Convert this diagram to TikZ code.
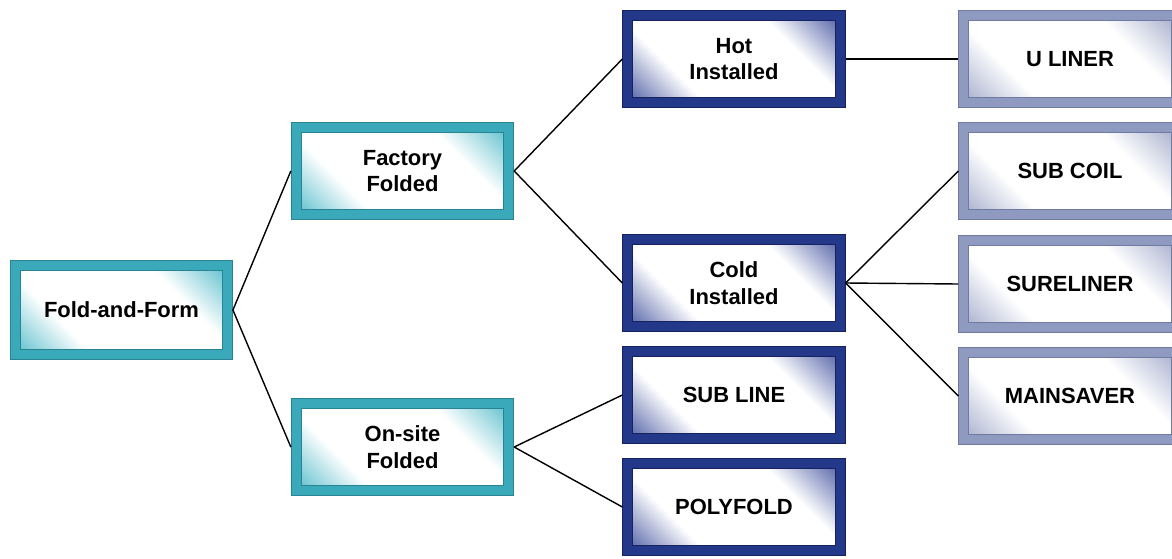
\documentclass[tikz,border=0pt]{standalone}
\usepackage{fontspec}
\setmainfont{Liberation Sans}
\usepackage{tikz}

\definecolor{tealframe}{RGB}{58,170,186}
\definecolor{tealshade}{RGB}{64,180,196}
\definecolor{tealdark}{RGB}{40,132,148}
\definecolor{navyframe}{RGB}{36,56,138}
\definecolor{navyshade}{RGB}{50,68,150}
\definecolor{navydark}{RGB}{22,34,96}
\definecolor{slateframe}{RGB}{142,154,192}
\definecolor{slateshade}{RGB}{150,160,196}
\definecolor{slatedark}{RGB}{112,122,160}

\pgfdeclarehorizontalshading{tealfill}{100bp}{color(0bp)=(tealshade); color(12bp)=(tealshade); color(33bp)=(white); color(67bp)=(white); color(88bp)=(tealshade); color(100bp)=(tealshade)}
\pgfdeclarehorizontalshading{navyfill}{100bp}{color(0bp)=(navyshade); color(12bp)=(navyshade); color(33bp)=(white); color(67bp)=(white); color(88bp)=(navyshade); color(100bp)=(navyshade)}
\pgfdeclarehorizontalshading{slatefill}{100bp}{color(0bp)=(slateshade); color(12bp)=(slateshade); color(33bp)=(white); color(67bp)=(white); color(88bp)=(slateshade); color(100bp)=(slateshade)}

\tikzset{
  box/.style={minimum width=4.25cm, minimum height=1.75cm, align=center,
    font=\fontsize{12.5}{15}\selectfont\bfseries, line width=0.5pt,
    double distance=5.2pt, outer sep=3.1pt, shading angle=45},
  tealbox/.style={box, draw=tealdark, double=tealframe, shading=tealfill},
  navybox/.style={box, draw=navydark, double=navyframe, shading=navyfill},
  slatebox/.style={box, draw=slatedark, double=slateframe, shading=slatefill},
}

\begin{document}
\begin{tikzpicture}[x=0.02cm, y=-0.02cm]
    \clip (0,0) rectangle (1172,558);
    %root
    \node[tealbox, minimum width=4.24cm, minimum height=1.78cm] (fold) at (121.5,310) {Fold-and-Form};
    %second level
    \node[tealbox] (factory) at (402.5,171) {Factory\\Folded};
    \node[tealbox] (onsite) at (402.5,447) {On-site\\Folded};
    %third level
    \node[navybox] (hot) at (734,59) {Hot\\Installed};
    \node[navybox] (cold) at (734,283) {Cold\\Installed};
    \node[navybox] (subline) at (734,395) {SUB LINE};
    \node[navybox] (polyfold) at (734,507) {POLYFOLD};
    %products
    \node[slatebox] (uliner) at (1070,59) {U LINER};
    \node[slatebox] (subcoil) at (1070,171) {SUB COIL};
    \node[slatebox] (sureliner) at (1070,284) {SURELINER};
    \node[slatebox] (mainsaver) at (1070,396) {MAINSAVER};
    %links
    \draw[thick] (fold.east) -- (factory.west);
    \draw[thick] (fold.east) -- (onsite.west);
    \draw[thick] (factory.east) -- (hot.west);
    \draw[thick] (factory.east) -- (cold.west);
    \draw[thick] (onsite.east) -- (subline.west);
    \draw[thick] (onsite.east) -- (polyfold.west);
    \draw[thick] (hot.east) -- (uliner.west);
    \draw[thick] (cold.east) -- (subcoil.west);
    \draw[thick] (cold.east) -- (sureliner.west);
    \draw[thick] (cold.east) -- (mainsaver.west);
\end{tikzpicture}
\end{document}
